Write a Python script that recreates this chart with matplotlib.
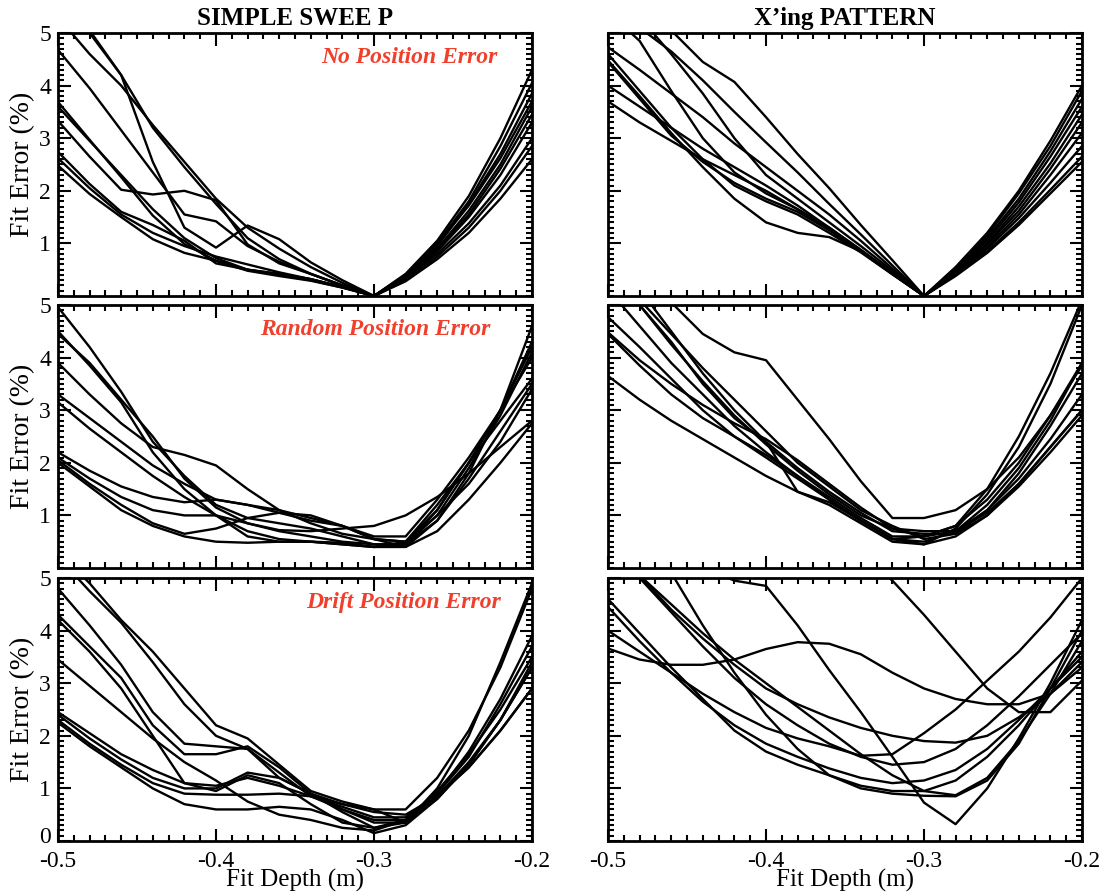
import numpy as np
import matplotlib.pyplot as plt
from matplotlib.ticker import MultipleLocator
from matplotlib.transforms import ScaledTranslation

plt.rcParams['font.family'] = ['Liberation Serif', 'DejaVu Serif']
plt.rcParams['axes.unicode_minus'] = False

# Profundidad de ajuste (m), muestreada cada 0.02 m
profundidad = [-0.50, -0.48, -0.46, -0.44, -0.42, -0.40, -0.38, -0.36,
               -0.34, -0.32, -0.30, -0.28, -0.26, -0.24, -0.22, -0.20]

# ---- SIMPLE SWEEP ----
barrido_sin_error = [
    [5.7, 5.05, 4.2, 2.55, 1.3, 0.92, 1.34, 1.08, 0.64, 0.3, 0.0, 0.42, 1.05, 1.9, 3.0, 4.3],
    [5.6, 5.0, 4.2, 3.2, 2.45, 1.75, 1.1, 0.7, 0.42, 0.2, 0.0, 0.4, 1.0, 1.8, 2.85, 4.05],
    [5.3, 4.6, 4.0, 3.25, 2.55, 1.85, 1.3, 0.9, 0.55, 0.25, 0.0, 0.38, 0.95, 1.75, 2.7, 3.85],
    [4.68, 3.95, 3.15, 2.35, 1.55, 1.42, 0.95, 0.65, 0.42, 0.2, 0.0, 0.4, 0.98, 1.72, 2.62, 3.7],
    [3.69, 2.97, 2.26, 1.53, 0.99, 0.67, 0.48, 0.38, 0.29, 0.16, 0.0, 0.36, 0.9, 1.62, 2.5, 3.6],
    [3.6, 2.95, 2.3, 1.65, 1.1, 0.72, 0.5, 0.42, 0.32, 0.17, 0.0, 0.36, 0.88, 1.55, 2.42, 3.45],
    [3.33, 2.65, 2.02, 1.93, 2.0, 1.82, 0.98, 0.62, 0.42, 0.2, 0.0, 0.34, 0.85, 1.5, 2.3, 3.3],
    [2.74, 2.13, 1.6, 1.35, 1.05, 0.62, 0.5, 0.42, 0.32, 0.17, 0.0, 0.33, 0.8, 1.38, 2.1, 3.0],
    [2.62, 2.05, 1.55, 1.2, 0.95, 0.75, 0.6, 0.45, 0.32, 0.17, 0.0, 0.3, 0.75, 1.3, 2.0, 2.85],
    [2.48, 1.94, 1.5, 1.08, 0.82, 0.67, 0.5, 0.4, 0.3, 0.16, 0.0, 0.28, 0.7, 1.2, 1.85, 2.6],
]

barrido_aleatorio = [
    [4.96, 4.2, 3.35, 2.4, 1.75, 1.2, 0.95, 0.85, 0.75, 0.6, 0.45, 0.45, 0.9, 1.8, 3.0, 4.6],
    [4.5, 3.85, 3.15, 2.2, 1.5, 1.0, 0.6, 0.5, 0.5, 0.45, 0.4, 0.5, 1.1, 2.0, 3.0, 4.3],
    [4.45, 3.9, 3.2, 2.5, 1.7, 1.15, 0.85, 0.7, 0.6, 0.5, 0.45, 0.45, 1.0, 1.9, 2.9, 4.1],
    [3.9, 3.3, 2.75, 2.3, 2.15, 1.95, 1.5, 1.1, 0.95, 0.8, 0.6, 0.6, 1.3, 2.1, 3.0, 4.0],
    [3.3, 2.85, 2.4, 1.95, 1.6, 1.3, 1.2, 1.1, 0.85, 0.65, 0.55, 0.5, 1.2, 2.0, 2.8, 3.6],
    [3.15, 2.65, 2.2, 1.75, 1.35, 1.0, 0.7, 0.55, 0.5, 0.45, 0.4, 0.4, 0.9, 1.7, 2.6, 3.5],
    [2.2, 1.85, 1.55, 1.35, 1.25, 1.3, 1.2, 1.05, 0.9, 0.8, 0.55, 0.5, 1.0, 1.6, 2.4, 3.4],
    [2.1, 1.7, 1.35, 1.1, 1.0, 1.0, 0.85, 0.72, 0.7, 0.75, 0.8, 1.0, 1.35, 1.8, 2.3, 2.8],
    [2.05, 1.6, 1.2, 0.85, 0.65, 0.75, 0.95, 1.05, 1.0, 0.8, 0.55, 0.4, 0.7, 1.3, 2.0, 2.75],
    [2.0, 1.55, 1.1, 0.8, 0.6, 0.5, 0.48, 0.5, 0.5, 0.48, 0.4, 0.45, 1.1, 2.0, 3.0, 4.2],
]

barrido_deriva = [
    [5.5, 4.9, 4.2, 3.6, 2.9, 2.2, 1.95, 1.45, 0.95, 0.75, 0.6, 0.6, 1.2, 2.1, 3.3, 4.8],
    [5.4, 4.75, 4.15, 3.4, 2.6, 2.0, 1.75, 1.2, 0.9, 0.7, 0.6, 0.35, 1.0, 2.0, 3.4, 4.9],
    [4.8, 4.1, 3.35, 2.45, 1.85, 1.8, 1.75, 1.3, 0.85, 0.65, 0.45, 0.45, 0.9, 1.7, 2.7, 3.9],
    [4.3, 3.7, 3.1, 2.2, 1.65, 1.65, 1.8, 1.4, 0.9, 0.6, 0.4, 0.4, 0.9, 1.6, 2.6, 3.7],
    [4.2, 3.6, 2.9, 2.0, 1.1, 0.95, 1.25, 1.1, 0.7, 0.35, 0.25, 0.35, 0.95, 1.65, 2.5, 3.5],
    [3.45, 2.95, 2.45, 1.95, 1.5, 1.15, 0.75, 0.5, 0.4, 0.25, 0.2, 0.4, 0.85, 1.5, 2.3, 3.4],
    [2.45, 2.05, 1.65, 1.35, 1.1, 1.05, 1.2, 1.05, 0.85, 0.6, 0.35, 0.35, 0.8, 1.45, 2.3, 3.3],
    [2.4, 1.95, 1.55, 1.2, 1.0, 1.0, 1.3, 1.2, 0.9, 0.55, 0.25, 0.4, 0.85, 1.4, 2.1, 2.9],
    [2.3, 1.85, 1.45, 1.1, 0.9, 0.88, 0.88, 0.9, 0.85, 0.7, 0.55, 0.5, 0.85, 1.4, 2.1, 2.9],
    [2.25, 1.8, 1.4, 1.0, 0.7, 0.6, 0.6, 0.65, 0.6, 0.4, 0.15, 0.3, 0.8, 1.45, 2.3, 3.3],
]

# ---- X'ing PATTERN ----
cruce_sin_error = [
    [6.2, 5.7, 5.05, 4.45, 4.07, 3.4, 2.7, 2.05, 1.35, 0.68, 0.0, 0.55, 1.2, 2.0, 2.95, 4.0],
    [5.5, 5.1, 4.65, 4.1, 3.5, 2.92, 2.35, 1.75, 1.17, 0.58, 0.0, 0.5, 1.15, 1.95, 2.85, 3.9],
    [5.8, 5.3, 4.6, 3.85, 3.0, 2.3, 1.85, 1.4, 0.95, 0.48, 0.0, 0.5, 1.1, 1.85, 2.75, 3.75],
    [5.4, 4.85, 3.9, 3.0, 2.35, 1.95, 1.65, 1.3, 0.88, 0.44, 0.0, 0.48, 1.05, 1.78, 2.65, 3.6],
    [4.73, 4.3, 3.85, 3.4, 2.9, 2.45, 2.0, 1.55, 1.05, 0.52, 0.0, 0.46, 1.0, 1.7, 2.52, 3.45],
    [4.48, 3.8, 3.1, 2.45, 1.85, 1.4, 1.2, 1.12, 0.85, 0.42, 0.0, 0.45, 0.98, 1.62, 2.42, 3.3],
    [4.45, 3.75, 3.05, 2.55, 2.15, 1.85, 1.6, 1.25, 0.85, 0.42, 0.0, 0.43, 0.93, 1.55, 2.3, 3.1],
    [4.0, 3.6, 3.2, 2.8, 2.45, 2.1, 1.72, 1.3, 0.87, 0.43, 0.0, 0.42, 0.9, 1.48, 2.15, 2.85],
    [3.7, 3.3, 2.95, 2.6, 2.3, 2.0, 1.65, 1.27, 0.86, 0.43, 0.0, 0.4, 0.85, 1.4, 2.02, 2.65],
    [4.6, 3.9, 3.2, 2.6, 2.1, 1.8, 1.55, 1.2, 0.83, 0.41, 0.0, 0.38, 0.82, 1.35, 1.95, 2.55],
]

cruce_aleatorio = [
    [3.65, 3.2, 2.8, 2.45, 2.1, 1.75, 1.45, 1.2, 0.85, 0.5, 0.45, 0.6, 1.0, 1.6, 2.3, 3.0],
    [6.5, 5.9, 5.05, 4.45, 4.1, 3.95, 3.2, 2.45, 1.65, 0.95, 0.95, 1.1, 1.5, 2.1, 2.9, 3.85],
    [5.6, 5.0, 4.3, 3.5, 2.85, 2.4, 1.45, 1.25, 0.9, 0.55, 0.5, 0.7, 1.2, 1.9, 2.8, 3.9],
    [4.77, 4.2, 3.6, 3.0, 2.5, 2.1, 1.7, 1.3, 0.9, 0.55, 0.45, 0.75, 1.4, 2.3, 3.5, 5.0],
    [4.48, 3.95, 3.5, 3.1, 2.75, 2.45, 2.05, 1.6, 1.15, 0.75, 0.6, 0.8, 1.5, 2.5, 3.7, 5.1],
    [4.45, 3.85, 3.3, 2.85, 2.5, 2.15, 1.75, 1.35, 0.95, 0.6, 0.6, 0.8, 1.3, 2.0, 2.9, 3.9],
    [5.7, 5.0, 4.25, 3.55, 2.9, 2.35, 1.85, 1.4, 1.0, 0.75, 0.7, 0.7, 1.1, 1.8, 2.7, 3.7],
    [5.9, 5.1, 4.45, 3.8, 3.2, 2.6, 2.0, 1.55, 1.1, 0.8, 0.55, 0.65, 1.1, 1.7, 2.45, 3.3],
    [5.3, 4.6, 3.9, 3.3, 2.7, 2.2, 1.75, 1.3, 0.9, 0.55, 0.6, 0.7, 1.05, 1.6, 2.3, 3.0],
    [6.0, 5.3, 4.5, 3.7, 3.0, 2.4, 1.9, 1.45, 1.05, 0.7, 0.65, 0.65, 1.0, 1.55, 2.2, 2.9],
]

cruce_deriva = [
    [3.66, 3.45, 3.35, 3.35, 3.45, 3.65, 3.78, 3.75, 3.55, 3.2, 2.9, 2.7, 2.6, 2.6, 2.8, 3.4],
    [7.0, 6.4, 5.8, 5.2, 4.95, 4.85, 4.1, 3.25, 2.45, 1.6, 0.73, 0.32, 1.0, 1.95, 3.0, 4.2],
    [9.5, 9.0, 8.4, 7.9, 7.3, 6.8, 6.3, 5.8, 5.45, 4.95, 4.3, 3.6, 2.9, 2.45, 2.45, 3.05],
    [4.0, 3.6, 3.2, 2.8, 2.45, 2.15, 1.95, 1.8, 1.62, 1.65, 2.05, 2.5, 3.05, 3.6, 4.25, 5.0],
    [4.6, 3.95, 3.3, 2.7, 2.1, 1.7, 1.45, 1.25, 1.05, 0.95, 0.95, 1.15, 1.6, 2.2, 2.9, 3.6],
    [4.45, 3.8, 3.2, 2.65, 2.2, 1.85, 1.6, 1.38, 1.2, 1.1, 1.15, 1.35, 1.75, 2.3, 2.9, 3.5],
    [5.5, 5.0, 4.35, 3.7, 3.1, 2.6, 2.2, 1.85, 1.6, 1.45, 1.5, 1.75, 2.2, 2.75, 3.35, 3.95],
    [5.5, 5.05, 4.5, 3.95, 3.45, 3.0, 2.55, 2.1, 1.65, 1.25, 0.95, 0.87, 1.2, 1.9, 2.8, 3.8],
    [5.6, 5.05, 4.4, 3.85, 3.35, 2.9, 2.6, 2.35, 2.15, 2.0, 1.9, 1.87, 2.0, 2.35, 2.8, 3.3],
    [6.2, 5.8, 5.1, 4.1, 3.2, 2.4, 1.75, 1.25, 1.0, 0.9, 0.86, 0.85, 1.15, 1.85, 2.9, 4.0],
]

titulos = ['SIMPLE SWEE P', 'X\u2019ing PATTERN']
etiquetas_error = ['No Position Error', 'Random Position Error', 'Drift Position Error']
paneles = [[barrido_sin_error, cruce_sin_error],
           [barrido_aleatorio, cruce_aleatorio],
           [barrido_deriva, cruce_deriva]]

# ==========================================
# FIGURA
# ==========================================
fig = plt.figure(figsize=(11.04, 8.96), dpi=100)

izquierdas = [58 / 1104, 608 / 1104]
ancho = 474 / 1104
alto = 263 / 896
abajos = [1 - 296 / 896, 1 - 568 / 896, 1 - 841 / 896]
pos_texto = [(0.928, 0.905), (0.913, 0.905), (0.934, 0.905)]

for fila in range(3):
    for col in range(2):
        ax = fig.add_axes([izquierdas[col], abajos[fila], ancho, alto])
        for curva in paneles[fila][col]:
            ax.plot(profundidad, curva, color='black', linewidth=1.7)

        ax.set_xlim(-0.5, -0.2)
        ax.set_ylim(0, 5)
        ax.xaxis.set_major_locator(MultipleLocator(0.1))
        ax.xaxis.set_minor_locator(MultipleLocator(0.01))
        ax.yaxis.set_minor_locator(MultipleLocator(0.1))
        if fila == 2:
            ax.set_yticks([0, 1, 2, 3, 4, 5])
        else:
            ax.set_yticks([1, 2, 3, 4, 5])

        ax.tick_params(which='both', direction='in', top=True, right=True,
                       labelsize=17, width=1.5)
        ax.tick_params(which='major', length=9)
        ax.tick_params(which='minor', length=4.5)
        ax.tick_params(axis='x', which='major', pad=7)
        ax.tick_params(axis='y', which='major', pad=5)
        for lado in ax.spines.values():
            lado.set_linewidth(2.0)

        if fila < 2:
            ax.tick_params(labelbottom=False)
        else:
            ax.set_xticks([-0.5, -0.4, -0.3, -0.2])
            ax.set_xticklabels(['-0.5', '-0.4', '-0.3', '-0.2'])
            ax.set_xlabel('Fit Depth (m)', fontsize=18, labelpad=-2)

        if col == 0:
            ax.set_ylabel('Fit Error (%)', fontsize=20, labelpad=3)
            ax.text(pos_texto[fila][0], pos_texto[fila][1], etiquetas_error[fila],
                    transform=ax.transAxes, ha='right', va='center',
                    fontsize=17, fontweight='bold', fontstyle='italic',
                    color='#f0402d')
            if fila == 2:
                # el "0" queda un poco más arriba para no chocar con "-0.5"
                etiqueta_cero = ax.get_yticklabels()[0]
                etiqueta_cero.set_transform(etiqueta_cero.get_transform() +
                                            ScaledTranslation(0, 4 / 72, fig.dpi_scale_trans))
        else:
            ax.tick_params(labelleft=False)

        if fila == 0:
            ax.set_title(titulos[col], fontsize=18, fontweight='bold', pad=6)

plt.savefig('out.png', dpi=100)
